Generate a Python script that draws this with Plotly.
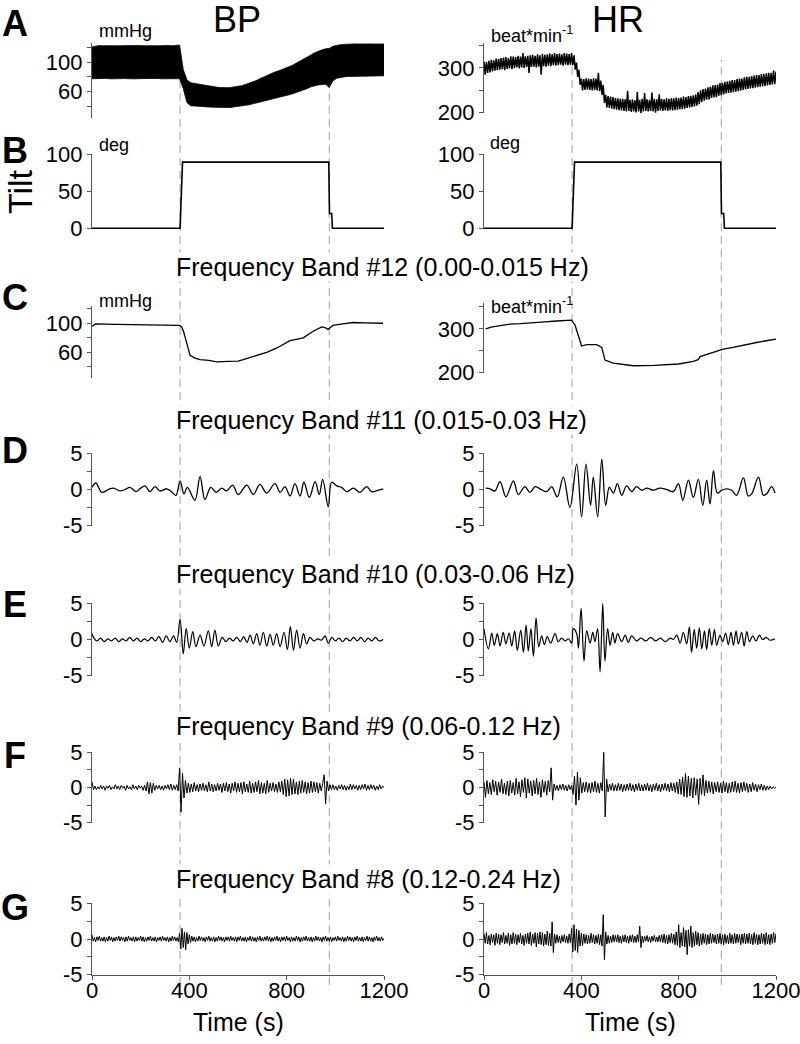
import plotly.graph_objects as go

# ---------------- DATA ----------------
# Row A, BP raw (mmHg): envelope of the dense pulsatile trace, 15 s grid
bp_env_t = list(range(0, 1201, 15))
bp_upper = [121.0, 122.5, 123.0, 122.5, 123.0, 122.8, 122.5, 123.0, 122.6, 122.8, 123.0, 122.5,
            122.7, 123.0, 122.6, 122.8, 123.2, 122.7, 122.5, 123.0, 122.8, 123.0, 122.6, 123.0,
            123.5, 90, 76, 72, 71, 70, 69, 68, 67, 66.5,
            66, 65.5, 65, 65.2, 65.5, 66, 67, 68, 69.5, 71,
            73, 75, 77.5, 80, 82, 84.5, 86.5, 88, 90, 91.5,
            93.5, 96, 99, 101.5, 104.5, 107.5, 110, 113, 115.5, 117,
            118.5, 119, 122, 123.5, 124, 124.5, 125, 125, 125.2, 125,
            125.3, 125, 125.2, 125, 125.3, 125.1, 125]
bp_lower = [77.5, 77.8, 77.2, 77.6, 77.9, 77.3, 77.6, 77.8, 77.4, 77.7, 77.5, 77.9,
            77.3, 77.6, 77.8, 77.5, 77.2, 77.7, 77.9, 77.4, 77.6, 77.8, 77.5, 77.3,
            77.5, 64, 45, 40.5, 40, 39.5, 39.5, 39, 38.8, 38.5,
            38.5, 38, 37.8, 37.5, 38, 39, 40, 40.5, 41, 41.8,
            43, 44, 45.5, 46.5, 48, 49.5, 50.5, 51.5, 52.5, 54,
            55.5, 57, 58.5, 60, 62, 64, 66.5, 68, 69, 69.5,
            70, 65.5, 74.5, 78, 79.5, 80, 80.5, 80.5, 80.8, 81,
            80.8, 81.2, 81, 81.3, 81.1, 81.4, 81.5]

# Row A, HR raw (beat/min): beat-to-beat highs (on the 10 s grid) and lows (5 s later)
hr_env_t = list(range(0, 1201, 10))
hr_upper = [314, 313, 316, 318, 317, 321, 320, 322, 323, 324,
            322, 326, 325, 324, 327, 325, 333, 326, 327, 328,
            329, 327, 330, 328, 331, 329, 330, 332, 330, 333,
            331, 332, 330, 333, 332, 331, 333, 328, 312, 296,
            276, 275, 277, 276, 275, 277, 276, 289, 272, 262,
            240, 237, 236, 235, 233, 232, 231, 231, 230, 249,
            229, 230, 228, 246, 229, 231, 244, 230, 229, 245,
            231, 230, 241, 231, 230, 232, 231, 233, 232, 234,
            233, 234, 236, 235, 237, 238, 239, 241, 246, 250,
            253, 254, 257, 258, 261, 262, 263, 266, 267, 269,
            270, 271, 273, 273, 275, 276, 276, 279, 280, 280,
            282, 283, 284, 284, 286, 286, 288, 289, 289, 294,
            292]
hr_lower = [285, 289, 290, 292, 294, 295, 296, 297, 295, 298,
            299, 297, 300, 301, 299, 301, 300, 302, 289, 302,
            303, 301, 303, 285, 304, 303, 305, 304, 306, 305,
            306, 307, 305, 307, 306, 307, 306, 296, 280, 262,
            250, 251, 252, 251, 250, 251, 250, 248, 240, 222,
            212, 211, 209, 208, 207, 206, 205, 204, 203, 204,
            202, 203, 201, 203, 198, 203, 204, 203, 204, 203,
            200, 204, 205, 204, 205, 204, 206, 205, 206, 207,
            208, 208, 209, 211, 212, 213, 214, 216, 219, 224,
            227, 229, 230, 233, 234, 235, 238, 239, 241, 243,
            244, 245, 246, 247, 248, 249, 251, 252, 253, 254,
            255, 256, 257, 258, 259, 260, 261, 262, 263, 264,
            266]

# Row B, tilt angle (deg)
tilt_t = [0, 362, 372, 973, 976, 985, 988, 1200]
tilt_v = [0, 0, 90, 90, 20, 20, 0, 0]

# Row C, band #12 (0.00-0.015 Hz)
c_bp_t = [0, 15, 100, 200, 300, 360, 368, 375, 390, 403, 423, 444, 480, 513, 560, 600, 622, 660,
          718, 760, 814, 868, 909, 944, 958, 970, 990, 1030, 1073, 1120, 1196]
c_bp_v = [96, 99, 98.5, 98, 97.5, 97, 95, 90, 72, 56, 52, 50, 49, 47, 47.5, 48, 50, 54,
          60, 66, 76, 80, 89, 95, 94, 91.5, 97, 99, 101, 100.5, 100]
c_hr_t = [7, 30, 66, 107, 150, 203, 250, 299, 340, 360, 374, 388, 401, 422, 463, 484, 497, 531,
          613, 700, 750, 800, 860, 880, 888, 929, 950, 983, 1024, 1070, 1120, 1160, 1203]
c_hr_v = [300, 304, 307.6, 311, 312, 315, 316, 318, 319, 320, 309, 286, 261, 264, 264, 258, 229, 222,
          216, 217, 218, 220, 226, 230, 237, 245, 248, 254, 258, 264, 269, 273, 277]

# Row D, band #11 (0.015-0.03 Hz): turning points
d_bp_t = [0, 16, 40, 67, 88, 115, 136, 156, 181, 197, 218, 238, 259, 279, 307, 323, 345, 362, 378, 392,
          423, 444, 464, 488, 510, 533, 553, 578, 601, 636, 663, 690, 718, 752, 773, 793, 814, 834, 855, 871,
          893, 917, 934, 948, 971, 985, 1006, 1026, 1047, 1074, 1101, 1129, 1149, 1177, 1197]
d_bp_v = [0.3, 0.9, -0.4, 0.0, 0.2, -0.2, 0.0, 0.3, -0.3, 0.1, 0.5, -0.3, 0.4, -0.2, 0.1, -0.2, -0.8, 1.2, -0.6, 0.3,
          -1.5, 1.8, -1.4, 0.3, -0.4, 0.2, -0.2, 0.6, -0.7, 0.6, -0.7, 0.7, -0.5, 0.8, -0.4, 0.4, -0.9, 0.8, -0.9, 1.0,
          -1.1, 1.1, -0.7, 1.4, -2.4, 1.0, 0.5, 0.3, -0.3, 0.2, -0.4, 0.4, -0.3, -0.1, 0.1]
d_hr_t = [7, 25, 45, 66, 90, 121, 141, 168, 189, 210, 230, 258, 278, 301, 326, 353, 381, 401, 419, 438,
          449, 467, 484, 500, 515, 532, 548, 566, 586, 607, 627, 648, 669, 696, 723, 751, 778, 799, 817, 840,
          860, 881, 899, 915, 929, 943, 959, 977, 997, 1018, 1038, 1066, 1086, 1100, 1128, 1148, 1162, 1182, 1196]
d_hr_v = [0.2, 0.1, -0.2, 1.1, -1.0, 1.2, -0.7, 0.4, -0.4, 0.4, 0.1, -0.3, 0.4, -1.0, 1.7, -2.5, 3.5, -3.8, 3.5, -2.2,
          1.7, -3.8, 4.2, -2.2, 0.3, -0.5, 0.8, -0.8, 0.5, -0.3, 0.4, -0.1, 0.2, -0.1, 0.2, 0.0, -0.3, 0.8, -1.5, 1.3,
          -1.1, 1.4, -2.2, 1.3, -2.0, 2.6, -0.5, -0.1, 0.1, -0.1, -0.8, 1.6, -0.9, -0.6, 1.7, -0.8, -0.6, 0.4, -0.5]

# Row E, band #10 (0.03-0.06 Hz): turning points
e_bp_t = [0, 8, 20, 35, 50, 65, 80, 95, 110, 125, 140, 155, 170, 185, 200, 215, 230, 245, 260, 275,
          290, 305, 320, 335, 348, 362, 375, 387, 400, 414, 427, 444, 460, 478, 492, 505, 519, 535, 550, 565,
          580, 595, 610, 623, 637, 650, 663, 677, 690, 704, 718, 732, 745, 759, 773, 789, 803, 815, 828, 841,
          855, 869, 882, 896, 912, 928, 943, 958, 971, 986, 1000, 1015, 1030, 1045, 1060, 1075, 1090, 1105, 1120, 1135,
          1150, 1165, 1180, 1197]
e_bp_v = [0.8, 0.2, -0.2, 0.2, -0.3, 0.1, -0.2, 0.2, -0.3, 0.1, -0.2, 0.3, -0.2, 0.2, -0.3, 0.1, -0.2, 0.3, -0.2, 0.4,
          -0.4, 0.5, -0.3, 0.5, -0.4, 2.8, -2.0, 1.5, -1.2, 1.1, -1.0, 0.6, -0.9, 1.2, -1.0, 1.3, -0.9, 0.3, -0.3, 0.2,
          -0.2, 0.3, -0.3, 0.4, -0.4, 0.6, -0.6, 0.8, -0.8, 1.0, -0.9, 0.7, -0.8, 0.8, -1.0, 1.0, -1.4, 1.8, -1.5, 1.3,
          -1.2, 0.8, -0.6, 0.3, -0.2, 0.1, -0.1, 0.5, -0.5, 0.3, -0.2, 0.2, -0.3, 0.2, -0.2, 0.3, -0.2, 0.3, -0.3, 0.2,
          -0.2, 0.3, -0.2, 0.0]
e_hr_t = [0, 18, 32, 42, 55, 66, 79, 90, 103, 114, 126, 137, 151, 162, 173, 182, 193, 203, 214, 225,
          237, 248, 260, 274, 292, 305, 319, 333, 347, 360, 367, 381, 388, 399, 411, 422, 436, 447, 456, 467,
          477, 488, 497, 508, 518, 529, 538, 549, 566, 580, 593, 607, 627, 645, 665, 685, 705, 725, 745, 765,
          778, 792, 806, 819, 833, 844, 853, 864, 874, 885, 895, 906, 915, 926, 936, 947, 956, 970, 981, 993,
          1004, 1015, 1025, 1036, 1045, 1059, 1069, 1080, 1091, 1104, 1118, 1132, 1145, 1159, 1175, 1196]
e_hr_v = [1.5, -1.3, 0.9, -0.8, 0.8, -0.9, 1.0, -0.6, 0.9, -0.9, 1.2, -1.5, 1.3, -1.8, 2.0, -1.6, 1.5, -2.3, 3.0, -1.0,
          0.5, -0.7, 0.4, -0.5, 0.8, -0.3, 0.2, -0.2, 0.1, -0.5, 1.5, 0.8, -1.2, 4.3, -3.0, 1.2, -0.5, 1.0, -0.3, 1.5,
          -4.5, 5.0, -3.0, 1.5, -0.8, 1.0, -0.5, 0.8, -0.3, 0.6, -0.4, 0.5, -0.2, 0.2, -0.2, 0.3, -0.2, 0.2, -0.3, 0.2,
          0.0, 0.6, -0.5, 1.0, -0.6, 1.7, -1.8, 1.4, -1.2, 1.6, -1.3, 1.2, -1.4, 1.5, -0.8, 1.4, -0.8, 0.6, -0.3, 0.9,
          -0.7, 1.0, -0.8, 1.2, -0.6, 1.0, -0.9, 1.1, -0.3, 0.5, -0.2, 0.6, 0.0, 0.3, -0.1, 0.1]

# Row F, band #9 (0.06-0.12 Hz): 6 s grid
f_t = list(range(0, 1201, 6))
f_bp_v = [0.8, -0.3, 0.2, -0.3, 0.1, -0.2, 0.3, -0.2, 0.2, -0.4,
          0.2, -0.1, 0.3, -0.3, 0.1, -0.2, 0.4, -0.2, 0.2, -0.3,
          0.3, -0.1, 0.2, -0.4, 0.3, -0.2, 0.1, -0.3, 0.4, -0.2,
          0.2, -0.3, 0.3, -0.1, 0.2, -0.4, 0.3, -0.5, 0.8, -0.9,
          0.7, -0.8, 0.6, -0.4, 0.3, -0.2, 0.3, -0.3, 0.2, -0.4,
          0.3, -0.2, 0.4, -0.3, 0.5, -0.4, 0.3, -0.3, 0.4, -0.5,
          2.8, -3.5, 2.0, -1.5, 1.0, -0.8, 0.6, -0.7, 0.5, -0.6,
          0.7, -0.5, 0.4, -0.6, 0.5, -0.4, 0.6, -0.5, 0.4, -0.6,
          0.8, -0.5, 0.5, -0.6, 0.4, -0.5, 0.6, -0.4, 0.5, -0.7,
          0.6, -0.5, 0.7, -0.6, 0.5, -0.8, 0.6, -0.5, 0.8, -0.7,
          0.6, -0.6, 0.7, -0.9, 0.8, -0.6, 0.5, -0.7, 0.9, -0.8,
          0.6, -0.7, 0.8, -0.6, 1.0, -0.9, 0.7, -0.8, 0.6, -0.9,
          1.0, -0.7, 0.6, -0.5, 0.7, -0.6, 0.5, -0.7, 0.8, -0.6,
          0.9, -1.0, 1.2, -1.3, 1.1, -1.2, 1.3, -1.0, 1.2, -0.9,
          0.8, -1.0, 0.9, -0.8, 1.0, -0.7, 0.8, -0.9, 0.7, -0.8,
          0.9, -0.7, 0.8, -0.6, 0.7, -0.8, 0.6, -0.5, 0.6, 1.8,
          -2.3, 0.9, -0.5, 0.4, -0.3, 0.4, -0.3, 0.2, -0.4, 0.3,
          -0.2, 0.4, -0.3, 0.3, -0.4, 0.2, -0.3, 0.5, -0.3, 0.4,
          -0.2, 0.3, -0.4, 0.3, -0.3, 0.4, -0.2, 0.5, -0.4, 0.3,
          -0.3, 0.4, -0.2, 0.3, -0.4, 0.2, -0.3, 0.4, -0.2, 0.2,
          0.0]
f_hr_v = [0.8, -1.4, 1.0, -0.9, 0.7, -1.0, 1.1, -0.6, 0.9, -1.1,
          0.8, -0.7, 1.2, -0.9, 0.6, -1.0, 0.9, -1.2, 1.0, -0.8,
          0.7, -1.1, 1.3, -0.9, 0.8, -1.3, 1.1, -0.7, 1.4, -1.5,
          1.2, -0.8, 0.9, -1.2, 1.0, -0.9, 1.3, -1.0, 0.8, -1.4,
          1.1, -0.7, 0.9, -1.1, 1.0, -0.6, 2.8, -1.8, 0.5, -0.4,
          0.3, -0.5, 0.4, -0.3, 0.5, -0.4, 0.3, -0.5, 0.4, -0.3,
          0.3, -1.0, 1.6, -2.5, 2.2, -1.8, 1.4, -0.8, 0.7, -0.6,
          0.8, -0.7, 0.6, -0.8, 0.7, -0.6, 0.9, -0.7, 0.6, -0.8,
          0.7, -0.5, 5.0, -4.2, 1.2, -0.6, 0.5, -0.4, 0.6, -0.5,
          0.4, -0.5, 0.6, -0.4, 0.5, -0.6, 0.4, -0.5, 0.5, -0.4,
          0.6, -0.5, 0.4, -0.6, 0.5, -0.4, 0.6, -0.5, 0.4, -0.5,
          0.5, -0.4, 0.6, -0.5, 0.4, -0.6, 0.5, -0.4, 0.6, -0.5,
          0.4, -0.6, 0.5, -0.4, 0.6, -0.5, 0.5, -0.6, 0.7, -0.5,
          0.6, -0.7, 0.8, -0.9, 1.2, -1.0, 1.5, -1.3, 2.0, -1.4,
          1.6, -1.2, 1.3, -1.5, 1.4, -1.1, 1.2, -2.4, 1.3, -1.0,
          1.8, -1.2, 1.0, -0.8, 0.9, -0.7, 0.8, -0.9, 0.7, -0.6,
          0.8, -0.7, 0.6, -0.8, 0.9, -0.6, 0.7, -0.8, 0.6, -0.7,
          0.8, -0.6, 0.9, -0.7, 0.6, -0.8, 0.7, -0.6, 0.8, -0.5,
          0.6, -0.7, 0.5, -0.6, 0.7, -0.4, 0.5, -0.6, 0.4, -0.3,
          0.5, -0.4, 0.3, -0.4, 0.2, -0.3, 0.2, -0.2, 0.1, -0.1,
          0.0]

# Row G, band #8 (0.12-0.24 Hz): 5 s grid
g_t = list(range(0, 1201, 5))
g_bp_v = [0.6, -0.3, 0.2, -0.4, 0.3, -0.2, 0.4, -0.3, 0.2, -0.3, 0.3, -0.4,
          0.2, -0.3, 0.4, -0.2, 0.3, -0.4, 0.2, -0.3, 0.3, -0.2, 0.4, -0.3,
          0.3, -0.2, 0.2, -0.4, 0.3, -0.3, 0.4, -0.2, 0.2, -0.3, 0.3, -0.4,
          0.3, -0.3, 0.2, -0.2, 0.4, -0.3, 0.3, -0.4, 0.2, -0.3, 0.3, -0.2,
          0.4, -0.3, 0.2, -0.3, 0.3, -0.4, 0.2, -0.2, 0.3, -0.3, 0.4, -0.2,
          0.2, -0.3, 0.3, -0.4, 0.2, -0.3, 0.4, -0.2, 0.3, -0.3, 0.2, -0.4,
          0.8, -1.4, 1.5, -1.2, 1.0, -1.5, 0.9, -0.7, 0.6, -0.5, 0.4, -0.3,
          0.3, -0.4, 0.2, -0.3, 0.4, -0.2, 0.3, -0.3, 0.2, -0.4, 0.3, -0.2,
          0.4, -0.3, 0.2, -0.3, 0.3, -0.4, 0.2, -0.3, 0.4, -0.2, 0.3, -0.3,
          0.2, -0.4, 0.3, -0.2, 0.3, -0.3, 0.4, -0.2, 0.2, -0.3, 0.3, -0.4,
          0.3, -0.2, 0.4, -0.3, 0.2, -0.3, 0.3, -0.4, 0.2, -0.2, 0.4, -0.3,
          0.3, -0.3, 0.2, -0.4, 0.3, -0.2, 0.4, -0.3, 0.2, -0.3, 0.3, -0.2,
          0.4, -0.3, 0.3, -0.4, 0.2, -0.3, 0.3, -0.2, 0.4, -0.3, 0.2, -0.4,
          0.3, -0.2, 0.3, -0.3, 0.4, -0.2, 0.2, -0.4, 0.3, -0.3, 0.2, -0.3,
          0.4, -0.2, 0.3, -0.4, 0.2, -0.3, 0.3, -0.2, 0.4, -0.3, 0.2, -0.3,
          0.3, -0.4, 0.2, -0.3, 0.4, -0.2, 0.3, -0.3, 0.2, -0.4, 0.3, -0.2,
          0.4, -0.3, 0.2, -0.3, 0.3, -0.4, 0.2, -0.2, 0.3, -0.3, 0.4, -0.2,
          0.2, -0.3, 0.3, -0.4, 0.2, -0.3, 0.4, -0.2, 0.3, -0.3, 0.2, -0.4,
          0.3, -0.2, 0.4, -0.3, 0.2, -0.3, 0.3, -0.4, 0.2, -0.2, 0.4, -0.3,
          0.3, -0.3, 0.2, -0.4, 0.3, -0.2, 0.4, -0.3, 0.2, -0.3, 0.3, -0.2,
          0.1]
g_hr_v = [0.8, -0.6, 0.9, -0.7, 0.5, -0.8, 0.7, -0.5, 0.6, -0.9, 0.8, -0.6,
          0.7, -0.8, 0.6, -0.5, 0.9, -0.7, 0.5, -0.6, 0.8, -0.9, 0.6, -0.7,
          0.9, -0.6, 0.7, -0.8, 0.6, -0.5, 0.8, -0.7, 0.5, -0.9, 0.7, -0.6,
          0.8, -0.7, 1.0, -0.9, 0.7, -0.6, 0.9, -1.1, 0.8, -0.7, 1.0, -0.8,
          0.9, -1.0, 0.7, -0.8, 1.1, -0.9, 0.8, -1.0, 2.4, -1.9, 0.7, -0.6,
          0.6, -0.5, 0.4, -0.6, 0.5, -0.4, 0.6, -0.5, 0.4, -0.6, 0.7, -0.5,
          1.5, -1.8, 2.0, -1.6, 1.4, -1.9, 1.2, -1.0, 0.8, -0.9, 0.7, -0.6,
          0.6, -0.7, 0.5, -0.6, 0.8, -0.5, 0.6, -0.7, 0.5, -0.6, 0.7, -0.8,
          0.6, -1.0, 3.4, -2.9, 1.0, -0.7, 0.5, -0.6, 0.4, -0.5, 0.6, -0.4,
          0.5, -0.4, 0.6, -0.5, 0.4, -0.6, 0.5, -0.4, 0.6, -0.5, 0.4, -0.6,
          0.5, -0.4, 0.6, -0.5, 0.4, -0.5, 0.6, -0.4, 1.8, -1.2, 0.4, -0.5,
          0.4, -0.3, 0.5, -0.4, 0.3, -0.5, 0.4, -0.3, 0.5, -0.4, 0.3, -0.4,
          0.5, -0.4, 0.6, -0.5, 0.7, -0.6, 0.5, -0.7, 0.6, -0.5, 0.8, -0.6,
          0.7, -0.8, 1.0, -0.9, 2.0, -1.2, 0.9, -1.0, 1.6, -1.1, 1.2, -2.2,
          1.3, -1.0, 1.8, -1.2, 0.9, -1.0, 1.1, -0.8, 0.9, -1.0, 0.7, -0.8,
          0.8, -0.6, 0.7, -0.8, 0.6, -0.7, 0.8, -0.6, 0.7, -0.5, 0.6, -0.7,
          0.7, -0.6, 0.8, -0.7, 0.6, -0.8, 0.7, -0.6, 0.5, -0.7, 0.8, -0.6,
          0.6, -0.7, 0.8, -0.6, 0.7, -0.5, 0.6, -0.8, 0.7, -0.6, 0.8, -0.7,
          0.7, -0.6, 0.8, -0.7, 0.6, -0.8, 0.9, -0.6, 0.7, -0.8, 0.6, -0.7,
          0.8, -0.6, 0.7, -0.8, 0.9, -0.7, 0.6, -0.8, 0.7, -0.6, 0.9, -0.5,
          0.8]

tilt_marks = [362, 975]          # dashed event lines (s)
x_ticks = [0, 400, 800, 1200]
band_titles = ["Frequency Band #12 (0.00-0.015 Hz)", "Frequency Band #11 (0.015-0.03 Hz)",
               "Frequency Band #10 (0.03-0.06 Hz)", "Frequency Band #9 (0.06-0.12 Hz)",
               "Frequency Band #8 (0.12-0.24 Hz)"]
row_letters = ["A", "B", "C", "D", "E", "F", "G"]

# ---------------- LAYOUT GEOMETRY ----------------
W, H = 800, 1044
FONT = "Liberation Sans, Arial, sans-serif"
AX = "#555555"
XDOM = {0: (92, 384), 1: (484, 776)}

bp_ticks = dict(major=[60, 100], text=["60", "100"], minor=[40, 80, 120])
hr_ticks = dict(major=[200, 300], text=["200", "300"], minor=[250, 350])
tilt_ticks = dict(major=[0, 50, 100], text=["0", "50", "100"], minor=[])
band_ticks = dict(major=[-5, 0, 5], text=["-5", "0", "5"], minor=[-2.5, 2.5])
band_rng = [-5.05, 5.05]

# per subplot: (row, col, top_px, bottom_px, range, ticks)
specs = [
    (0, 0, 43, 118, [23.7, 126.4], bp_ticks), (0, 1, 43, 113, [199.5, 355.5], hr_ticks),
    (1, 0, 154, 229, [-1, 101], tilt_ticks), (1, 1, 154, 229, [-1, 101], tilt_ticks),
    (2, 0, 306, 378, [24.7, 123.7], bp_ticks), (2, 1, 303, 373, [199.5, 359], hr_ticks),
    (3, 0, 453, 526, band_rng, band_ticks), (3, 1, 453, 526, band_rng, band_ticks),
    (4, 0, 603, 676, band_rng, band_ticks), (4, 1, 603, 676, band_rng, band_ticks),
    (5, 0, 752, 823, band_rng, band_ticks), (5, 1, 752, 823, band_rng, band_ticks),
    (6, 0, 903, 975, band_rng, band_ticks), (6, 1, 903, 975, band_rng, band_ticks),
]

fig = go.Figure()


def ax_names(k):
    return ("x" if k == 1 else f"x{k}"), ("y" if k == 1 else f"y{k}")


def add(k, x, y, width=1.2, shape="linear", **kw):
    xa, ya = ax_names(k)
    fig.add_trace(go.Scatter(x=x, y=y, mode="lines", xaxis=xa, yaxis=ya, showlegend=False,
                             line=dict(color="black", width=width, shape=shape), hoverinfo="skip", **kw))


# Row A: BP as a solid envelope band
add(1, bp_env_t, bp_lower, width=0.8)
add(1, bp_env_t, bp_upper, width=0.8, fill="tonexty", fillcolor="black")
# Row A: HR as a noisy trace alternating between beat highs and lows
hr_x, hr_y = [], []
for t, hi, lo in zip(hr_env_t, hr_upper, hr_lower):
    hr_x += [t, t + 5]
    hr_y += [hi, lo]
add(2, hr_x[:-1], hr_y[:-1], width=1.5)
# Row B
add(3, tilt_t, tilt_v, width=1.6)
add(4, tilt_t, tilt_v, width=1.6)
# Row C
add(5, c_bp_t, c_bp_v, width=1.3)
add(6, c_hr_t, c_hr_v, width=1.3)
# Row D, E (smooth oscillations)
add(7, d_bp_t, d_bp_v, width=1.3, shape="spline")
add(8, d_hr_t, d_hr_v, width=1.3, shape="spline")
add(9, e_bp_t, e_bp_v, width=1.2, shape="spline")
add(10, e_hr_t, e_hr_v, width=1.2, shape="spline")
# Row F, G
add(11, f_t, f_bp_v, width=1.0)
add(12, f_t, f_hr_v, width=1.0)
add(13, g_t, g_bp_v, width=1.0)
add(14, g_t, g_hr_v, width=1.0)

layout = dict(template="none", width=W, height=H,
              margin=dict(l=0, r=0, t=0, b=0, pad=0, autoexpand=False),
              paper_bgcolor="white", plot_bgcolor="rgba(0,0,0,0)",
              font=dict(family=FONT, color="black", size=22), showlegend=False)

for i, (row, col, top, bot, rng, tk) in enumerate(specs):
    k = i + 1
    xkey = "xaxis" if k == 1 else f"xaxis{k}"
    ykey = "yaxis" if k == 1 else f"yaxis{k}"
    x0, x1 = XDOM[col]
    bottom_row = row == 6
    layout[xkey] = dict(domain=[x0 / W, x1 / W], range=[0, 1200], anchor=ax_names(k)[1],
                        automargin=False, showgrid=False, zeroline=False,
                        showline=bottom_row, linecolor=AX, linewidth=1,
                        ticks="outside" if bottom_row else "", ticklen=4, tickcolor=AX,
                        tickmode="array", tickvals=x_ticks if bottom_row else [],
                        showticklabels=bottom_row, ticklabeloverflow="allow",
                        ticklabelstandoff=-8,
                        tickfont=dict(size=22, family=FONT, color="black"), fixedrange=True)
    ydict = dict(domain=[1 - bot / H, 1 - top / H], range=rng, anchor=ax_names(k)[0],
                 automargin=False, showgrid=False, zeroline=False, showline=True,
                 linecolor=AX, linewidth=1.2,
                 ticks="outside", ticklen=4, tickcolor=AX, tickwidth=1,
                 tickmode="array", tickvals=tk["major"], ticktext=tk["text"],
                 ticklabeloverflow="allow",
                 tickfont=dict(size=22, family=FONT, color="black"), fixedrange=True)
    if tk["minor"]:
        ydict["minor"] = dict(tickmode="array", tickvals=tk["minor"], ticks="outside",
                              ticklen=4, tickcolor=AX, tickwidth=1, showgrid=False)
    layout[ykey] = ydict

shapes = []
for col, xref in ((0, "x13"), (1, "x14")):
    for t in tilt_marks:
        shapes.append(dict(type="line", xref=xref, yref="paper", x0=t, x1=t,
                           y0=1 - 985 / H, y1=1 - 60 / H, layer="below",
                           line=dict(color="#a0a0a0", width=1, dash="8px,5px")))
layout["shapes"] = shapes


def ann(text, px, py, size, xanchor="center", yanchor="middle", bold=False, textangle=0, bg=None):
    d = dict(text=f"<b>{text}</b>" if bold else text, x=px / W, y=1 - py / H, xref="paper", yref="paper",
             xanchor=xanchor, yanchor=yanchor, showarrow=False, textangle=textangle,
             font=dict(family=FONT, size=size, color="black"))
    if bg:
        d.update(bgcolor=bg, borderpad=0)
    return d


annotations = []
for letter, py in zip(row_letters, [24, 150, 298, 450, 604, 755, 907]):
    annotations.append(ann(letter, 15, py, 36, bold=True))
annotations.append(ann("BP", 237, 19, 36))
annotations.append(ann("HR", 618, 19, 36))
annotations.append(ann("Tilt", 20, 192, 34, textangle=-90))
annotations.append(ann("mmHg", 97, 31, 18, xanchor="left"))
annotations.append(ann("beat*min<sup>-1</sup>", 489, 35, 18, xanchor="left"))
annotations.append(ann("deg", 97, 145, 18, xanchor="left"))
annotations.append(ann("deg", 488, 143, 18, xanchor="left"))
annotations.append(ann("mmHg", 97, 301, 18, xanchor="left"))
annotations.append(ann("beat*min<sup>-1</sup>", 489, 305, 18, xanchor="left"))
for title, py in zip(band_titles, [267, 420, 574, 726, 879]):
    annotations.append(ann(title, 175, py, 25, xanchor="left", bg="white"))
annotations.append(ann("Time (s)", 238, 1022, 25))
annotations.append(ann("Time (s)", 630, 1022, 25))
layout["annotations"] = annotations

fig.update_layout(**layout)
# remove the browser's default 8px page margin so the 800x1044 figure fills the window exactly
fig.write_html("out.html", config={"displayModeBar": False},
               post_script="document.body.style.margin='0';document.body.style.padding='0';")
